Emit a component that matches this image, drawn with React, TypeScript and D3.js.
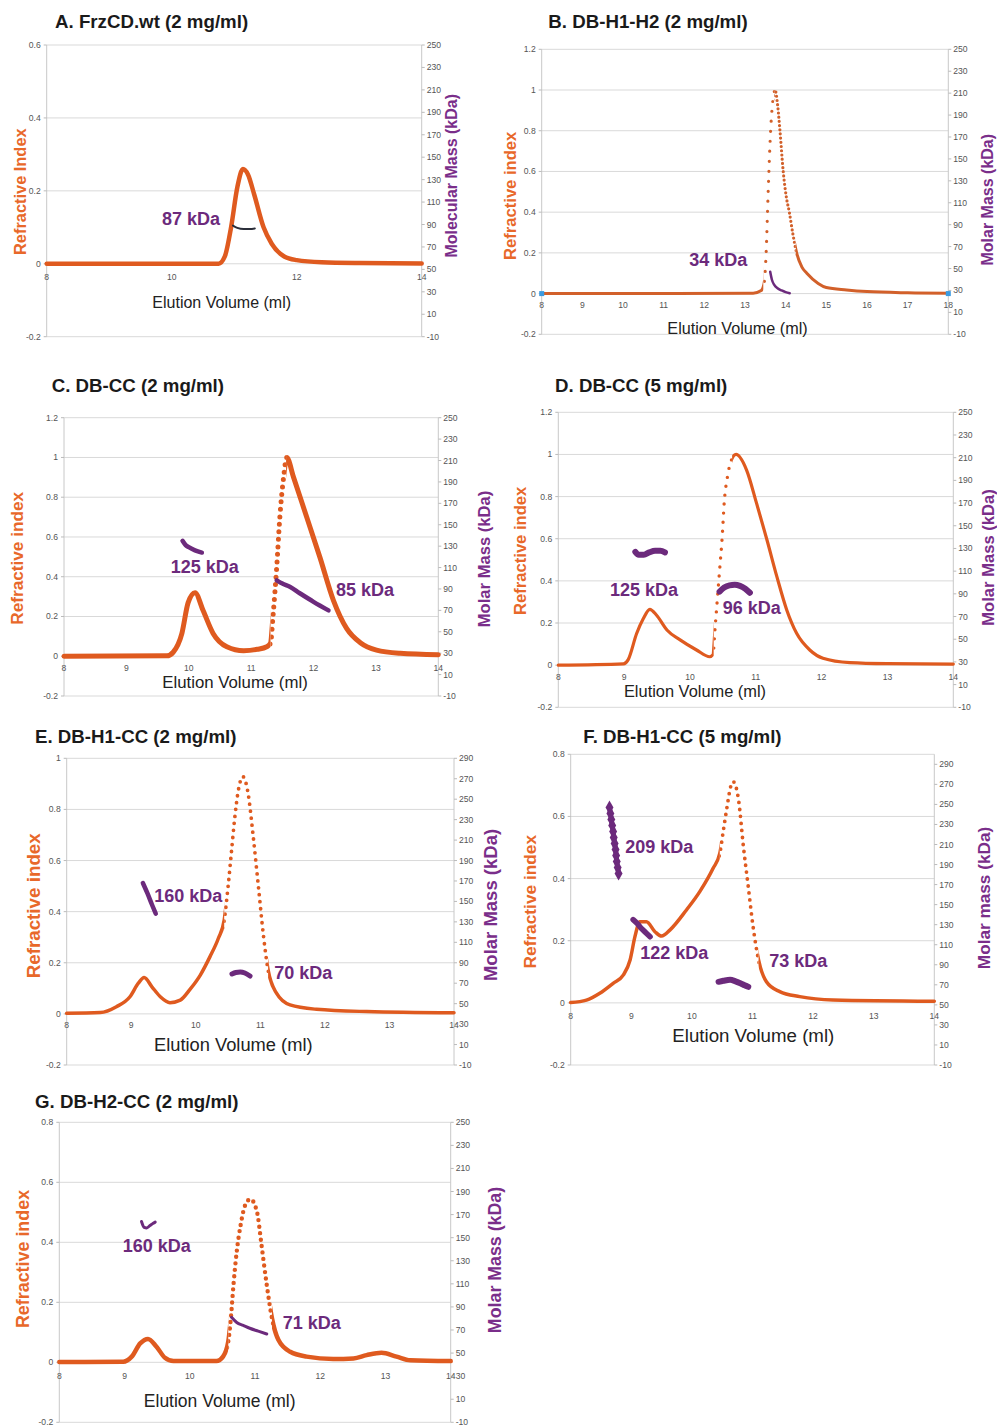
import React from "react";
import * as d3 from "d3";

type Pt = [number, number];

// ---------------- DATA ----------------
// Panel A  (RI vs elution volume; molar mass in kDa)
const riA: Pt[] = [[8, 0], [10.75, 0], [10.85, 0.02], [10.95, 0.1], [11.05, 0.21], [11.14, 0.26], [11.22, 0.245], [11.32, 0.19], [11.47, 0.1], [11.6, 0.055], [11.8, 0.02], [12.0, 0.01], [12.4, 0.004], [13, 0.002], [14, 0.001]];
const massA87: Pt[] = [[10.98, 89], [11.05, 87], [11.15, 86], [11.25, 86], [11.33, 86.5]];

// Panel B
const riB: Pt[] = [[8, 0], [13.2, 0.002], [13.4, 0.015], [13.47, 0.05], [13.52, 0.2], [13.57, 0.5], [13.63, 0.8], [13.7, 0.97], [13.74, 1.0], [13.8, 0.93], [13.86, 0.8], [13.94, 0.6], [14.02, 0.47], [14.09, 0.4], [14.18, 0.29], [14.27, 0.2], [14.4, 0.13], [14.52, 0.1], [14.8, 0.05], [15.0, 0.03], [15.5, 0.018], [16, 0.01], [17, 0.004], [18, 0.002]];
const massB34: Pt[] = [[13.62, 47], [13.66, 40], [13.72, 35], [13.8, 32], [13.9, 30], [14.0, 28.5], [14.1, 27.5]];
const endMarkersB: Pt[] = [[8, 0], [18, 0]];

// Panel C
const riC: Pt[] = [[8, 0], [9.65, 0.002], [9.75, 0.02], [9.89, 0.115], [9.99, 0.27], [10.1, 0.32], [10.23, 0.23], [10.39, 0.115], [10.61, 0.048], [10.88, 0.028], [11.1, 0.035], [11.25, 0.048], [11.31, 0.065], [11.35, 0.2], [11.41, 0.45], [11.46, 0.7], [11.52, 0.9], [11.57, 1.0], [11.68, 0.9], [11.89, 0.7], [12.1, 0.5], [12.32, 0.28], [12.53, 0.14], [12.75, 0.068], [13.01, 0.031], [13.39, 0.015], [14, 0.008]];
const massC125: Pt[] = [[9.9, 135], [9.95, 131], [10.0, 129], [10.1, 126], [10.21, 124]];
const massC85: Pt[] = [[11.41, 98], [11.5, 95], [11.62, 92], [11.78, 86], [12.0, 78], [12.24, 70]];

// Panel D
const riD: Pt[] = [[8, 0], [8.99, 0.006], [9.06, 0.025], [9.19, 0.15], [9.29, 0.22], [9.39, 0.265], [9.49, 0.238], [9.65, 0.167], [9.85, 0.12], [10.1, 0.072], [10.3, 0.04], [10.35, 0.05], [10.38, 0.17], [10.41, 0.29], [10.45, 0.45], [10.49, 0.61], [10.52, 0.77], [10.57, 0.895], [10.63, 0.974], [10.7, 1.0], [10.86, 0.926], [11.01, 0.77], [11.17, 0.594], [11.32, 0.42], [11.47, 0.262], [11.62, 0.151], [11.82, 0.072], [12.02, 0.033], [12.43, 0.012], [13, 0.007], [14, 0.005]];
const massD125: Pt[] = [[9.17, 127], [9.22, 124.5], [9.3, 124.5], [9.38, 126.5], [9.47, 128], [9.55, 128], [9.62, 126.5]];
const massD96: Pt[] = [[10.45, 92], [10.52, 95.5], [10.6, 97.5], [10.68, 98], [10.76, 97], [10.84, 94.5], [10.91, 91]];

// Panel E
const riE: Pt[] = [[8, 0.002], [8.52, 0.005], [8.77, 0.028], [8.98, 0.067], [9.11, 0.12], [9.2, 0.142], [9.32, 0.106], [9.45, 0.067], [9.6, 0.044], [9.76, 0.054], [9.91, 0.096], [10.07, 0.152], [10.22, 0.224], [10.35, 0.296], [10.44, 0.367], [10.5, 0.498], [10.55, 0.628], [10.6, 0.759], [10.66, 0.876], [10.73, 0.928], [10.81, 0.863], [10.89, 0.693], [10.97, 0.498], [11.05, 0.302], [11.12, 0.172], [11.25, 0.081], [11.46, 0.035], [11.87, 0.018], [12.65, 0.009], [14, 0.004]];
const massE160: Pt[] = [[9.18, 168], [9.25, 158], [9.32, 147], [9.38, 138]];
const massE70: Pt[] = [[10.56, 79], [10.62, 80.5], [10.69, 81], [10.76, 80], [10.84, 77]];

// Panel F
const riF: Pt[] = [[8, 0.001], [8.26, 0.009], [8.48, 0.031], [8.7, 0.063], [8.87, 0.09], [8.98, 0.138], [9.06, 0.213], [9.14, 0.261], [9.25, 0.261], [9.39, 0.229], [9.5, 0.215], [9.64, 0.235], [9.91, 0.299], [10.13, 0.358], [10.35, 0.433], [10.46, 0.481], [10.52, 0.556], [10.58, 0.631], [10.64, 0.696], [10.68, 0.712], [10.77, 0.653], [10.85, 0.503], [10.93, 0.374], [11.01, 0.245], [11.1, 0.138], [11.23, 0.068], [11.45, 0.036], [11.78, 0.02], [12.33, 0.009], [14, 0.005]];
const massF209: Pt[] = [[8.64, 247], [8.655, 241], [8.67, 235], [8.685, 229], [8.7, 223], [8.71, 217], [8.725, 211], [8.74, 205], [8.75, 199], [8.76, 193], [8.775, 187], [8.79, 181]];
const massF122: Pt[] = [[9.03, 135], [9.1, 131], [9.17, 126], [9.24, 122], [9.31, 118]];
const massF73: Pt[] = [[10.44, 73], [10.52, 74], [10.63, 75], [10.72, 73.5], [10.8, 71.5], [10.87, 69.5], [10.93, 68]];

// Panel G
const riG: Pt[] = [[8, 0.001], [8.98, 0.002], [9.11, 0.019], [9.24, 0.063], [9.36, 0.078], [9.49, 0.052], [9.62, 0.015], [9.75, 0.004], [10.41, 0.004], [10.51, 0.019], [10.59, 0.069], [10.63, 0.147], [10.67, 0.258], [10.72, 0.369], [10.78, 0.458], [10.85, 0.524], [10.93, 0.544], [11.03, 0.502], [11.1, 0.391], [11.18, 0.258], [11.26, 0.147], [11.36, 0.074], [11.54, 0.035], [11.79, 0.019], [12.2, 0.011], [12.51, 0.013], [12.71, 0.024], [12.94, 0.032], [13.17, 0.019], [13.38, 0.007], [14, 0.004]];
const massG160: Pt[] = [[9.26, 164], [9.3, 159], [9.34, 158.5], [9.39, 160.5], [9.44, 162.5], [9.47, 163.5]];
const massG71: Pt[] = [[10.64, 81], [10.72, 76.5], [10.82, 74], [10.92, 71.5], [11.05, 69], [11.18, 66.5]];

// Ticks
const xTicksA = [8, 10, 12, 14];
const xTicksB = [8, 9, 10, 11, 12, 13, 14, 15, 16, 17, 18];
const xTicks8to14 = [8, 9, 10, 11, 12, 13, 14];
const yTicks06 = [-0.2, 0, 0.2, 0.4, 0.6];
const yTicks08 = [-0.2, 0, 0.2, 0.4, 0.6, 0.8];
const yTicks10 = [-0.2, 0, 0.2, 0.4, 0.6, 0.8, 1];
const yTicks12 = [-0.2, 0, 0.2, 0.4, 0.6, 0.8, 1, 1.2];
const rTicks250 = [-10, 10, 30, 50, 70, 90, 110, 130, 150, 170, 190, 210, 230, 250];
const rTicks290 = [-10, 10, 30, 50, 70, 90, 110, 130, 150, 170, 190, 210, 230, 250, 270, 290];

// ---------------- STYLE ----------------
const ORANGE = "#DF5A1F";
const ORANGE_T = "#E8682A";
const PURPLE = "#6C2A7C";
const PURPLE_T = "#7A2E8A";
const FONT = "'Liberation Sans', Arial, sans-serif";

interface MassSeg { pts: Pt[]; label: string; lx: number; ly: number; w: number; color?: string; diamonds?: boolean }
interface TextPos { text: string; x: number; y: number; size: number }
interface DotRange { from: number; to: number; gap: number; w: number }
interface PanelCfg {
  id: string; title: string; tx: number; ty: number;
  left: number; right: number; top: number; bottom: number;
  xDomain: [number, number]; xTicks: number[];
  yDomain: [number, number]; yTicks: number[];
  rDomain: [number, number]; rTicks: number[];
  ri: Pt[]; dotted: DotRange[]; lineW: number; riColor?: string;
  masses: MassSeg[];
  xTickY: number; xTitle: TextPos; leftTitle: TextPos; rightTitle: TextPos;
  endMarkers?: Pt[];
}

const panels: PanelCfg[] = [
  {
    id: "A", title: "A. FrzCD.wt (2 mg/ml)", tx: 55, ty: 21.7,
    left: 46.7, right: 421.7, top: 45, bottom: 336.7,
    xDomain: [8, 14], xTicks: xTicksA, yDomain: [-0.2, 0.6], yTicks: yTicks06,
    rDomain: [-10, 250], rTicks: rTicks250,
    ri: riA, dotted: [], lineW: 4.5,
    masses: [{ pts: massA87, label: "87 kDa", lx: 191, ly: 218.3, w: 2, color: "#2b2e3a" }],
    xTickY: 277, xTitle: { text: "Elution Volume (ml)", x: 221.7, y: 302, size: 16 },
    leftTitle: { text: "Refractive Index", x: 20, y: 191.7, size: 16.4 },
    rightTitle: { text: "Molecular Mass (kDa)", x: 451.7, y: 175.8, size: 16 },
  },
  {
    id: "B", title: "B. DB-H1-H2 (2 mg/ml)", tx: 548.3, ty: 21.7,
    left: 541.7, right: 948.3, top: 49.3, bottom: 334.3,
    xDomain: [8, 18], xTicks: xTicksB, yDomain: [-0.2, 1.2], yTicks: yTicks12,
    rDomain: [-10, 250], rTicks: rTicks250,
    ri: riB, lineW: 3, riColor: "#D2602A",
    dotted: [
      { from: 13.45, to: 13.72, gap: 10, w: 3.2 },
      { from: 13.72, to: 14.25, gap: 4.2, w: 3.2 },
    ],
    masses: [{ pts: massB34, label: "34 kDa", lx: 718.3, ly: 259.3, w: 2.5 }],
    xTickY: 305, xTitle: { text: "Elution Volume (ml)", x: 737.5, y: 328.3, size: 16.2 },
    leftTitle: { text: "Refractive index", x: 510, y: 195.8, size: 16.6 },
    rightTitle: { text: "Molar Mass (kDa)", x: 987.5, y: 199.7, size: 16 },
    endMarkers: endMarkersB,
  },
  {
    id: "C", title: "C. DB-CC (2 mg/ml)", tx: 51.7, ty: 385,
    left: 64, right: 438.3, top: 417.7, bottom: 696,
    xDomain: [8, 14], xTicks: xTicks8to14, yDomain: [-0.2, 1.2], yTicks: yTicks12,
    rDomain: [-10, 250], rTicks: rTicks250,
    ri: riC, dotted: [{ from: 11.31, to: 11.56, gap: 7.5, w: 5 }], lineW: 5,
    masses: [
      { pts: massC125, label: "125 kDa", lx: 204.7, ly: 566.7, w: 4.5 },
      { pts: massC85, label: "85 kDa", lx: 365, ly: 589.3, w: 4.5 },
    ],
    xTickY: 668.3, xTitle: { text: "Elution Volume (ml)", x: 235, y: 681.7, size: 16.8 },
    leftTitle: { text: "Refractive index", x: 16.7, y: 558.3, size: 17.2 },
    rightTitle: { text: "Molar Mass (kDa)", x: 484, y: 559, size: 16.6 },
  },
  {
    id: "D", title: "D. DB-CC (5 mg/ml)", tx: 555, ty: 385,
    left: 558.3, right: 953.3, top: 412.3, bottom: 707.3,
    xDomain: [8, 14], xTicks: xTicks8to14, yDomain: [-0.2, 1.2], yTicks: yTicks12,
    rDomain: [-10, 250], rTicks: rTicks250,
    ri: riD, dotted: [{ from: 10.36, to: 10.64, gap: 9, w: 3.4 }], lineW: 3.2,
    masses: [
      { pts: massD125, label: "125 kDa", lx: 644, ly: 589.3, w: 6 },
      { pts: massD96, label: "96 kDa", lx: 751.7, ly: 607.3, w: 6 },
    ],
    xTickY: 676.7, xTitle: { text: "Elution Volume (ml)", x: 695, y: 690.7, size: 16.4 },
    leftTitle: { text: "Refractive index", x: 520, y: 550.8, size: 16.6 },
    rightTitle: { text: "Molar Mass (kDa)", x: 988.3, y: 557.5, size: 16.6 },
  },
  {
    id: "E", title: "E. DB-H1-CC (2 mg/ml)", tx: 35, ty: 736.7,
    left: 66.7, right: 454, top: 758.3, bottom: 1065,
    xDomain: [8, 14], xTicks: xTicks8to14, yDomain: [-0.2, 1], yTicks: yTicks10,
    rDomain: [-10, 290], rTicks: rTicks290,
    ri: riE, dotted: [{ from: 10.44, to: 11.12, gap: 7, w: 3.8 }], lineW: 3.5,
    masses: [
      { pts: massE160, label: "160 kDa", lx: 188.3, ly: 895.7, w: 4.5 },
      { pts: massE70, label: "70 kDa", lx: 303.3, ly: 972.3, w: 5 },
    ],
    xTickY: 1025, xTitle: { text: "Elution Volume (ml)", x: 233.3, y: 1044.3, size: 18.3 },
    leftTitle: { text: "Refractive index", x: 33.3, y: 905.8, size: 18.8 },
    rightTitle: { text: "Molar Mass (kDa)", x: 490, y: 905, size: 18.5 },
  },
  {
    id: "F", title: "F. DB-H1-CC (5 mg/ml)", tx: 583.3, ty: 736.7,
    left: 570.7, right: 934.3, top: 754.3, bottom: 1065,
    xDomain: [8, 14], xTicks: xTicks8to14, yDomain: [-0.2, 0.8], yTicks: yTicks08,
    rDomain: [-10, 300], rTicks: rTicks290,
    ri: riF, dotted: [{ from: 10.46, to: 11.1, gap: 7, w: 3.8 }], lineW: 3.5,
    masses: [
      { pts: massF209, label: "209 kDa", lx: 659.3, ly: 846.7, w: 5, diamonds: true },
      { pts: massF122, label: "122 kDa", lx: 674.3, ly: 952.7, w: 5.5 },
      { pts: massF73, label: "73 kDa", lx: 798.3, ly: 960.7, w: 6 },
    ],
    xTickY: 1016, xTitle: { text: "Elution Volume (ml)", x: 753.3, y: 1035, size: 18.7 },
    leftTitle: { text: "Refractive index", x: 530, y: 901.7, size: 17.3 },
    rightTitle: { text: "Molar mass (kDa)", x: 983.3, y: 898, size: 17.2 },
  },
  {
    id: "G", title: "G. DB-H2-CC (2 mg/ml)", tx: 35, ty: 1101.7,
    left: 59.3, right: 450.7, top: 1122.3, bottom: 1422.3,
    xDomain: [8, 14], xTicks: xTicks8to14, yDomain: [-0.2, 0.8], yTicks: yTicks08,
    rDomain: [-10, 250], rTicks: rTicks250,
    ri: riG, dotted: [{ from: 10.59, to: 11.26, gap: 6.5, w: 4.4 }], lineW: 4.5,
    masses: [
      { pts: massG160, label: "160 kDa", lx: 156.7, ly: 1245.7, w: 3 },
      { pts: massG71, label: "71 kDa", lx: 311.7, ly: 1322.3, w: 3 },
    ],
    xTickY: 1375.7, xTitle: { text: "Elution Volume (ml)", x: 219.7, y: 1401, size: 17.5 },
    leftTitle: { text: "Refractive index", x: 22.7, y: 1259, size: 17.9 },
    rightTitle: { text: "Molar Mass (kDa)", x: 495, y: 1260, size: 17.8 },
  },
];

const fmtY = (v: number) => String(+v.toFixed(1));

function Panel({ c }: { c: PanelCfg }) {
  const x = d3.scaleLinear().domain(c.xDomain).range([c.left, c.right]);
  const y = d3.scaleLinear().domain(c.yDomain).range([c.bottom, c.top]);
  const r = d3.scaleLinear().domain(c.rDomain).range([c.bottom, c.top]);
  const riLine = d3.line<Pt>().x((d) => x(d[0])).y((d) => y(d[1])).curve(d3.curveMonotoneX);
  const mLine = d3.line<Pt>().x((d) => x(d[0])).y((d) => r(d[1])).curve(d3.curveMonotoneX);
  const riPath = riLine(c.ri) || "";
  const riColor = c.riColor || ORANGE;
  // solid parts = complement of dotted x-ranges
  const cuts = c.dotted.map((d) => [x(d.from), x(d.to)] as [number, number]).sort((a, b) => a[0] - b[0]);
  const solidRects: [number, number][] = [];
  let cur = 0;
  cuts.forEach(([a, b]) => {
    if (a > cur) solidRects.push([cur, a]);
    cur = Math.max(cur, b);
  });
  solidRects.push([cur, 2000]);
  const diamond = d3.symbol().type(d3.symbolDiamond).size(55)() || "";
  const tickFs = 8.6;
  return (
    <g>
      <defs>
        <clipPath id={`solid-${c.id}`}>
          {solidRects.map(([a, b], i) => (
            <rect key={i} x={a} y={0} width={b - a} height={1428} />
          ))}
        </clipPath>
        {c.dotted.map((d, i) => (
          <clipPath key={i} id={`dot-${c.id}-${i}`}>
            <rect x={x(d.from)} y={0} width={x(d.to) - x(d.from)} height={1428} />
          </clipPath>
        ))}
      </defs>
      {/* gridlines */}
      {c.yTicks.map((t) => (
        <line key={`g${t}`} x1={c.left} x2={c.right} y1={y(t)} y2={y(t)} stroke="#d9d9d9" strokeWidth={1} />
      ))}
      <line x1={c.left} x2={c.left} y1={c.top} y2={c.bottom} stroke="#c8c8c8" />
      <line x1={c.right} x2={c.right} y1={c.top} y2={c.bottom} stroke="#c8c8c8" />
      {/* left ticks */}
      {c.yTicks.map((t) => (
        <g key={`l${t}`}>
          <line x1={c.left - 3} x2={c.left} y1={y(t)} y2={y(t)} stroke="#bbb" />
          <text x={c.left - 6} y={y(t)} dy="0.35em" textAnchor="end" fontSize={tickFs} fill="#555" fontFamily={FONT}>
            {fmtY(t)}
          </text>
        </g>
      ))}
      {/* right ticks */}
      {c.rTicks.map((t) => (
        <g key={`r${t}`}>
          <line x1={c.right} x2={c.right + 3} y1={r(t)} y2={r(t)} stroke="#bbb" />
          <text x={c.right + 5} y={r(t)} dy="0.35em" textAnchor="start" fontSize={tickFs} fill="#555" fontFamily={FONT}>
            {t}
          </text>
        </g>
      ))}
      {/* x tick labels */}
      {c.xTicks.map((t) => (
        <text key={`x${t}`} x={x(t)} y={c.xTickY} dy="0.35em" textAnchor="middle" fontSize={tickFs} fill="#555" fontFamily={FONT}>
          {t}
        </text>
      ))}
      {/* RI curve */}
      <path d={riPath} fill="none" stroke={riColor} strokeWidth={c.lineW} strokeLinejoin="round" strokeLinecap="round" clipPath={`url(#solid-${c.id})`} />
      {c.dotted.map((d, i) => (
        <path key={`d${i}`} d={riPath} fill="none" stroke={riColor} strokeWidth={d.w} strokeLinecap="round" strokeDasharray={`0 ${d.gap}`} clipPath={`url(#dot-${c.id}-${i})`} />
      ))}
      {c.endMarkers &&
        c.endMarkers.map((p, i) => (
          <rect key={`em${i}`} x={x(p[0]) - 2.5} y={y(p[1]) - 2.5} width={5} height={5} fill="#3d9be0" />
        ))}
      {/* molar mass */}
      {c.masses.map((m, i) => (
        <g key={`m${i}`}>
          <path d={mLine(m.pts) || ""} fill="none" stroke={m.color || PURPLE} strokeWidth={m.w} strokeLinecap="round" strokeLinejoin="round" />
          {m.diamonds &&
            m.pts.map((p, j) => (
              <path key={j} d={diamond} transform={`translate(${x(p[0])},${r(p[1])})`} fill={PURPLE} />
            ))}
          <text x={m.lx} y={m.ly} dy="0.36em" textAnchor="middle" fontSize={18} fontWeight="bold" fill={PURPLE} fontFamily={FONT}>
            {m.label}
          </text>
        </g>
      ))}
      {/* titles */}
      <text x={c.tx} y={c.ty} dy="0.36em" fontSize={18.7} fontWeight="bold" fill="#1a1a1a" fontFamily={FONT}>
        {c.title}
      </text>
      <text x={c.xTitle.x} y={c.xTitle.y} dy="0.36em" textAnchor="middle" fontSize={c.xTitle.size} fill="#222" fontFamily={FONT}>
        {c.xTitle.text}
      </text>
      <text transform={`translate(${c.leftTitle.x},${c.leftTitle.y}) rotate(-90)`} dy="0.36em" textAnchor="middle" fontSize={c.leftTitle.size} fontWeight="bold" fill={ORANGE_T} fontFamily={FONT}>
        {c.leftTitle.text}
      </text>
      <text transform={`translate(${c.rightTitle.x},${c.rightTitle.y}) rotate(-90)`} dy="0.36em" textAnchor="middle" fontSize={c.rightTitle.size} fontWeight="bold" fill={PURPLE_T} fontFamily={FONT}>
        {c.rightTitle.text}
      </text>
    </g>
  );
}

export default function App() {
  return (
    <svg width={997} height={1428} viewBox="0 0 997 1428" style={{ position: "absolute", left: 0, top: 0, background: "#fff" }}>
      <rect x={0} y={0} width={997} height={1428} fill="#fff" />
      {panels.map((c) => (
        <Panel key={c.id} c={c} />
      ))}
    </svg>
  );
}
